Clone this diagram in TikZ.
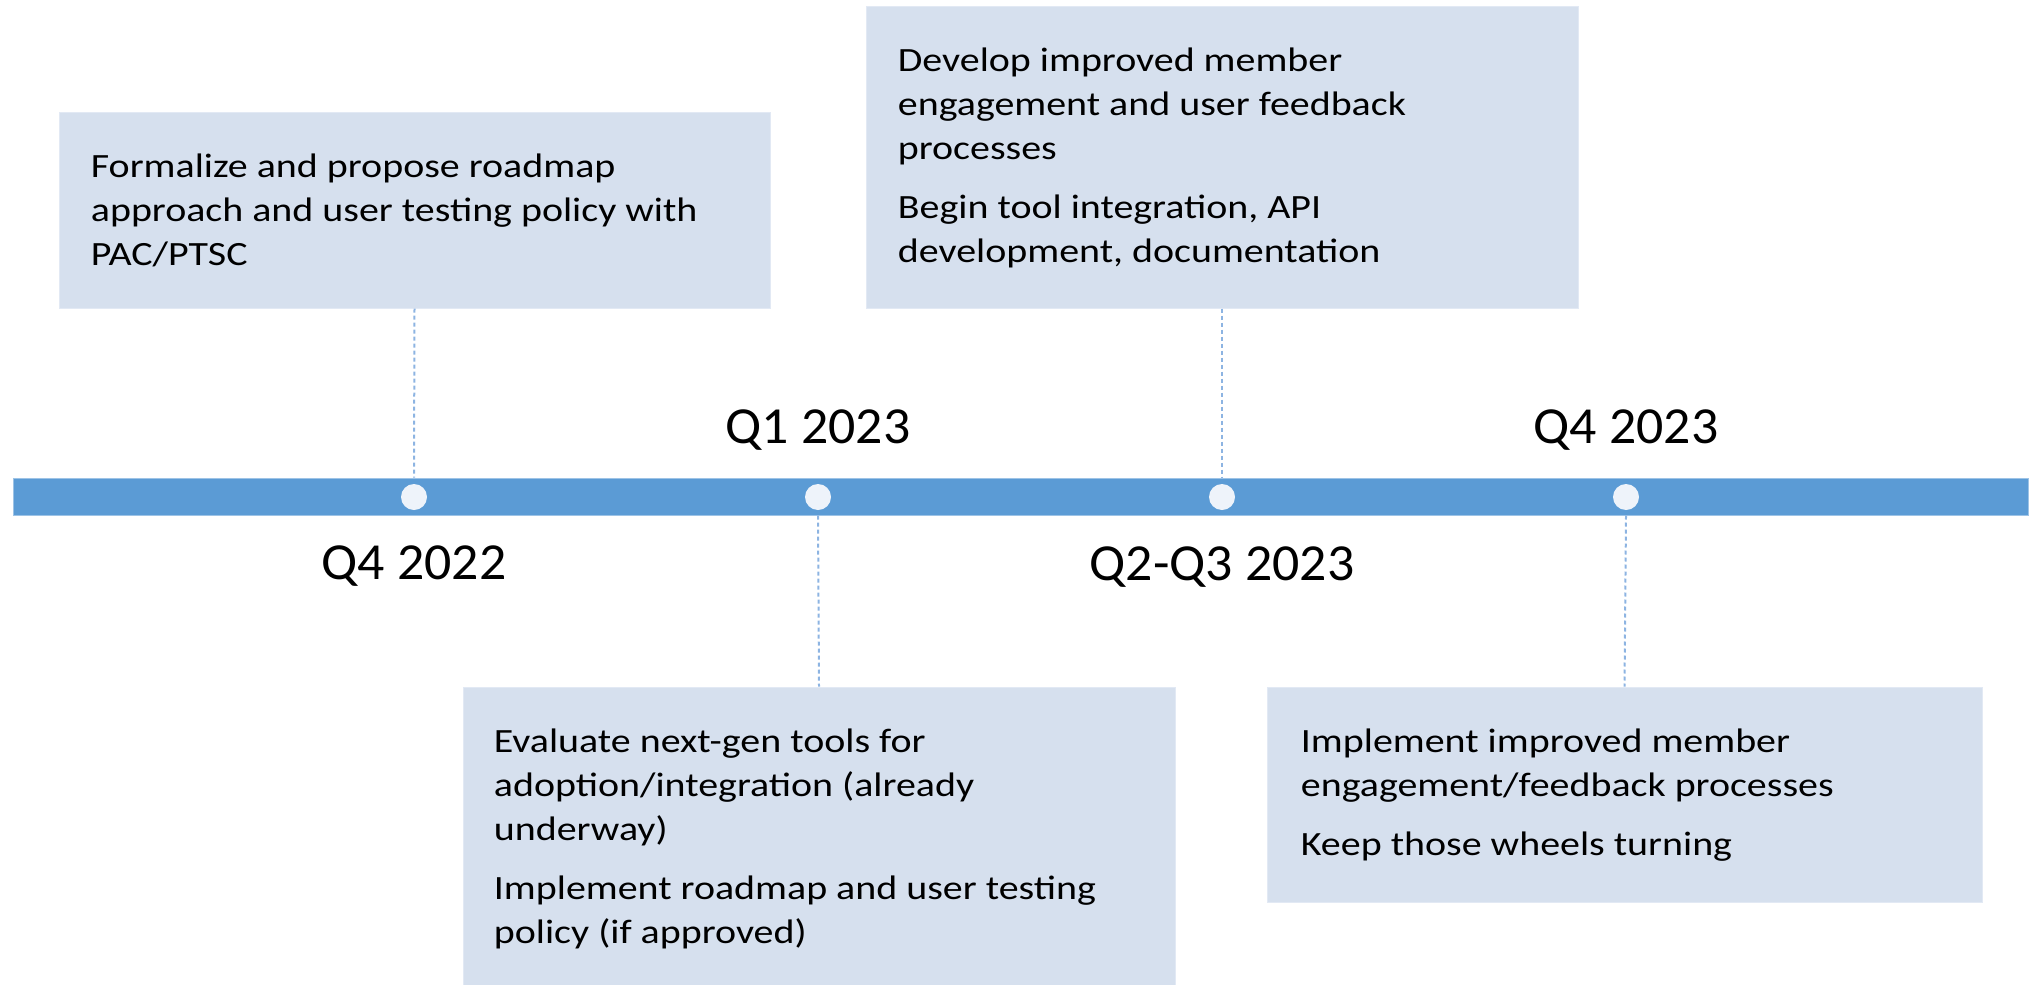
\documentclass[tikz,border=0pt]{standalone}
\usepackage{fontspec}
\setmainfont{Carlito}
\newfontfamily\taskfont[FakeStretch=1.175]{Carlito}
\newfontfamily\datefont[FakeStretch=1.035]{Carlito}
\definecolor{barblue}{HTML}{5B9BD5}
\definecolor{baredge}{HTML}{9DC3E6}
\definecolor{boxfill}{HTML}{D6E0EE}
\definecolor{boxedge}{HTML}{E2E9F4}
\definecolor{dotfill}{HTML}{EEF3FA}
\definecolor{dashblue}{HTML}{8DB4E2}
\tikzset{
  taskbox/.style={rectangle, fill=boxfill, draw=boxedge, line width=0.5pt, inner sep=0pt},
  tasktext/.style={anchor=north west, inner sep=0pt, align=left, font=\taskfont\fontsize{17}{22}\selectfont},
  datelabel/.style={anchor=base, inner sep=0pt, font=\datefont\fontsize{26}{30}\selectfont},
  milestone/.style={circle, fill=dotfill, draw=none, minimum size=13pt, inner sep=0pt},
  leader/.style={draw=dashblue, line width=1pt, dash pattern=on 2pt off 1.5pt}
}
\begin{document}
\begin{tikzpicture}[x=0.5pt, y=-0.5pt]
\useasboundingbox (0,0) rectangle (2040,985);
% timeline bar
\node[rectangle, fill=barblue, draw=baredge, line width=0.5pt, minimum width=1007.5pt, minimum height=18.5pt, inner sep=0pt] (bar) at (1020.5,496.5) {};
% milestones
\node[milestone] (c1) at (414,497) {};
\node[milestone] (c2) at (818,497) {};
\node[milestone] (c3) at (1222,497) {};
\node[milestone] (c4) at (1626,497) {};
% boxes
\node[taskbox, minimum width=355.5pt, minimum height=98pt] (b1) at (414.5,210) {};
\node[taskbox, minimum width=356pt, minimum height=151pt] (b2) at (1222,157) {};
\node[taskbox, minimum width=356pt, minimum height=150pt] (b3) at (819,837) {};
\node[taskbox, minimum width=357.5pt, minimum height=107.5pt] (b4) at (1624.5,794.5) {};
% texts
\node[tasktext] (t1) at ([shift={(32,35)}]b1.north west) {\strut Formalize and propose roadmap\\approach and user testing policy with\\PAC/PTSC};
\node[tasktext] (t2) at ([shift={(32,35)}]b2.north west) {\strut Develop improved member\\engagement and user feedback\\processes\\[7.5pt]Begin tool integration, API\\development, documentation};
\node[tasktext] (t3) at ([shift={(31,35)}]b3.north west) {\strut Evaluate next-gen tools for\\adoption/integration (already\\underway)\\[7.5pt]Implement roadmap and user testing\\policy (if approved)};
\node[tasktext] (t4) at ([shift={(34,35)}]b4.north west) {\strut Implement improved member\\engagement/feedback processes\\[7.5pt]Keep those wheels turning};
% leaders
\draw[leader] (b1.south) -- (c1 |- bar.north);
\draw[leader] (b2.south) -- (c3 |- bar.north);
\draw[leader] (c2 |- bar.south) -- (b3.north);
\draw[leader] (c4 |- bar.south) -- (b4.north);
% date labels
\node[datelabel] (d1) at (414,579) {Q4 2022};
\node[datelabel] (d2) at (818,443) {Q1 2023};
\node[datelabel] (d3) at (1222,580) {Q2-Q3 2023};
\node[datelabel] (d4) at (1626,443) {Q4 2023};
\end{tikzpicture}
\end{document}
